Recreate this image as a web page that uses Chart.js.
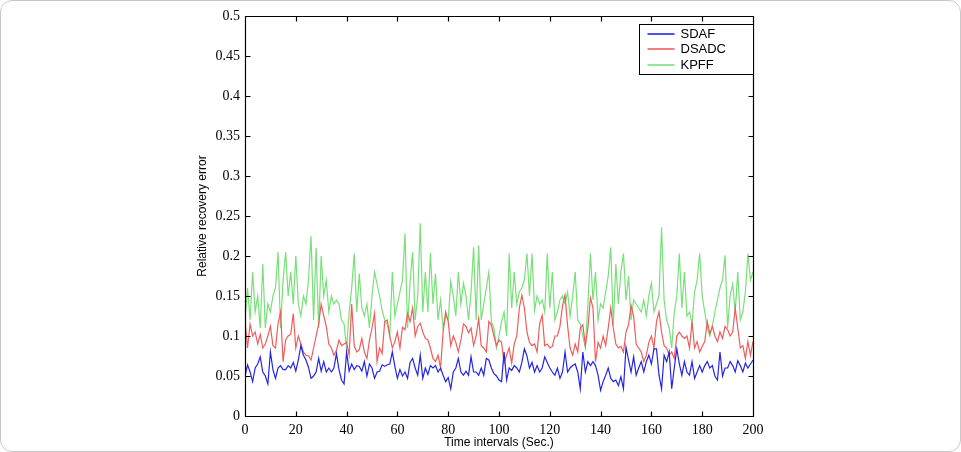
<!DOCTYPE html>
<html>
<head>
<meta charset="utf-8">
<script src="https://cdn.jsdelivr.net/npm/chart.js@4.4.1/dist/chart.umd.min.js"></script>
<style>
  body { margin: 0; background: #fff; }
  #wrap { position: relative; width: 961px; height: 452px; }
  #frame { position: absolute; left: 0; top: 0; width: 961px; height: 452px; box-sizing: border-box;
           border: 1px solid #c8c8c8; border-radius: 12px; pointer-events: none; }
</style>
</head>
<body>
<div id="wrap">
  <canvas id="ChartError"></canvas>
  <div id="frame"></div>
</div>
<script>
// time steps 0..200 (sec.)
const timeSteps = Array.from({ length: 201 }, (_, i) => i);

const sdaf = [
  0.05, 0.064, 0.055, 0.043, 0.06, 0.065, 0.074, 0.055, 0.05, 0.04,
  0.08, 0.058, 0.047, 0.06, 0.063, 0.058, 0.058, 0.063, 0.06, 0.067,
  0.056, 0.07, 0.088, 0.076, 0.07, 0.061, 0.047, 0.05, 0.055, 0.072,
  0.056, 0.068, 0.055, 0.06, 0.055, 0.06, 0.078, 0.058, 0.045, 0.04,
  0.08, 0.056, 0.065, 0.058, 0.063, 0.062, 0.056, 0.068, 0.05, 0.065,
  0.06, 0.047, 0.055, 0.056, 0.064, 0.062, 0.064, 0.065, 0.08, 0.062,
  0.047, 0.058, 0.05, 0.055, 0.047, 0.067, 0.072, 0.06, 0.051, 0.076,
  0.047, 0.06, 0.052, 0.063, 0.06, 0.063, 0.055, 0.06, 0.051, 0.043,
  0.048, 0.034, 0.055, 0.06, 0.072, 0.055, 0.051, 0.056, 0.051, 0.074,
  0.055, 0.055, 0.051, 0.06, 0.051, 0.072, 0.07, 0.06, 0.053, 0.05,
  0.045, 0.043, 0.08, 0.045, 0.06, 0.057, 0.063, 0.06, 0.055, 0.067,
  0.084, 0.075, 0.06, 0.067, 0.055, 0.063, 0.055, 0.06, 0.074, 0.067,
  0.06, 0.055, 0.051, 0.06, 0.047, 0.055, 0.08, 0.055, 0.06, 0.063,
  0.065, 0.055, 0.034, 0.08, 0.055, 0.068, 0.063, 0.068, 0.063, 0.051,
  0.032, 0.043, 0.051, 0.06, 0.047, 0.043, 0.045, 0.038, 0.049, 0.034,
  0.086, 0.07, 0.055, 0.074, 0.051, 0.06, 0.068, 0.055, 0.068, 0.076,
  0.065, 0.084, 0.084, 0.051, 0.034, 0.076, 0.068, 0.08, 0.034, 0.06,
  0.084, 0.065, 0.051, 0.068, 0.055, 0.051, 0.068, 0.047, 0.055, 0.063,
  0.055, 0.063, 0.068, 0.06, 0.063, 0.05, 0.045, 0.08, 0.05, 0.06,
  0.06, 0.068, 0.063, 0.055, 0.069, 0.063, 0.055, 0.066, 0.06, 0.065,
  0.07
];

const dsadc = [
  0.12, 0.085, 0.115, 0.1, 0.105, 0.09, 0.102, 0.085, 0.09, 0.1,
  0.112, 0.088, 0.085, 0.115, 0.13, 0.068, 0.095, 0.1, 0.102, 0.128,
  0.085, 0.1, 0.09, 0.08, 0.076, 0.075, 0.07, 0.085, 0.1, 0.115,
  0.14, 0.125, 0.112, 0.09, 0.085, 0.076, 0.082, 0.095, 0.088, 0.09,
  0.092, 0.076, 0.14, 0.088, 0.08, 0.083, 0.097, 0.08, 0.072, 0.095,
  0.11, 0.128, 0.068, 0.085, 0.078, 0.118, 0.12, 0.1, 0.085, 0.093,
  0.105, 0.085, 0.111, 0.108, 0.128, 0.118, 0.135, 0.1, 0.112, 0.116,
  0.105, 0.097, 0.095, 0.085, 0.072, 0.068, 0.076, 0.06, 0.105, 0.13,
  0.118, 0.088, 0.1, 0.092, 0.08, 0.095, 0.115, 0.112, 0.104, 0.11,
  0.088, 0.1, 0.122, 0.088, 0.085, 0.08, 0.118, 0.114, 0.1, 0.088,
  0.095, 0.092, 0.066, 0.076, 0.085, 0.066, 0.09, 0.1, 0.135, 0.151,
  0.135, 0.105, 0.092, 0.088, 0.09, 0.08, 0.115, 0.126, 0.088, 0.09,
  0.085, 0.087, 0.1, 0.1, 0.112, 0.138, 0.151, 0.113, 0.085, 0.076,
  0.09, 0.08, 0.11, 0.114, 0.088, 0.11, 0.148, 0.135, 0.068, 0.092,
  0.085, 0.1, 0.088, 0.11, 0.135, 0.11, 0.09, 0.085, 0.087, 0.08,
  0.105, 0.114, 0.138, 0.125, 0.09, 0.085, 0.08, 0.068, 0.076, 0.092,
  0.1, 0.085, 0.118, 0.13, 0.105, 0.088, 0.085, 0.076, 0.08, 0.072,
  0.1, 0.105, 0.1, 0.097, 0.1, 0.085, 0.118, 0.085, 0.093, 0.08,
  0.087, 0.093, 0.118, 0.103, 0.112, 0.1, 0.093, 0.105, 0.097, 0.112,
  0.108, 0.1, 0.105, 0.135, 0.11, 0.085, 0.088, 0.072, 0.093, 0.076,
  0.093
];

const kpff = [
  0.12, 0.16, 0.12, 0.18, 0.13, 0.15, 0.11, 0.19, 0.11, 0.14,
  0.13, 0.15, 0.16, 0.205, 0.11, 0.17, 0.205, 0.15, 0.18, 0.14,
  0.2, 0.14, 0.125, 0.15, 0.14, 0.17, 0.225, 0.12, 0.21, 0.11,
  0.2, 0.15, 0.17, 0.13, 0.15, 0.14, 0.145, 0.14, 0.12, 0.115,
  0.085, 0.13, 0.16, 0.203, 0.13, 0.178, 0.135, 0.125, 0.14, 0.11,
  0.15, 0.18, 0.165, 0.15, 0.132, 0.12, 0.115, 0.1, 0.18, 0.125,
  0.14, 0.155, 0.17, 0.228, 0.11, 0.168, 0.205, 0.12, 0.15, 0.241,
  0.13, 0.18, 0.13, 0.204, 0.14, 0.178, 0.12, 0.145, 0.11, 0.126,
  0.12, 0.168, 0.15, 0.125, 0.18, 0.14, 0.166, 0.15, 0.12, 0.155,
  0.211, 0.12, 0.213, 0.12, 0.14, 0.16, 0.18, 0.118, 0.11, 0.085,
  0.1, 0.118, 0.13, 0.1, 0.203, 0.135, 0.18, 0.14, 0.155, 0.16,
  0.17, 0.203, 0.15, 0.203, 0.132, 0.15, 0.14, 0.145, 0.13, 0.203,
  0.135, 0.18, 0.12, 0.13, 0.145, 0.15, 0.14, 0.155, 0.125, 0.15,
  0.18, 0.12, 0.115, 0.1, 0.085, 0.14, 0.203, 0.145, 0.18, 0.12,
  0.14, 0.135, 0.155, 0.175, 0.211, 0.113, 0.19, 0.14, 0.18, 0.203,
  0.145, 0.175, 0.12, 0.145, 0.14, 0.135, 0.13, 0.145, 0.125, 0.15,
  0.166, 0.13, 0.14, 0.15, 0.236, 0.145, 0.12, 0.11, 0.085, 0.13,
  0.15, 0.203, 0.135, 0.18, 0.125, 0.13, 0.115, 0.155, 0.17, 0.203,
  0.15, 0.13, 0.11, 0.1, 0.113, 0.13, 0.145, 0.16, 0.17, 0.201,
  0.11, 0.15, 0.165, 0.13, 0.18, 0.12, 0.13, 0.155, 0.203, 0.17,
  0.18
];

const seriesNames = ["SDAF", "DSADC", "KPFF"];
const seriesColors = ["#2424e6", "#f05c5c", "#78e078"];
const xTicks = ["0", "20", "40", "60", "80", "100", "120", "140", "160", "180", "200"];
const yTicks = ["0", "0.05", "0.1", "0.15", "0.2", "0.25", "0.3", "0.35", "0.4", "0.45", "0.5"];

const toPoints = (vals) => vals.map((v, i) => ({ x: timeSteps[i], y: v }));

// matlab-like box, inward ticks and legend
const matlabFrame = {
  id: "matlabFrame",
  afterDraw(chart) {
    const { ctx, chartArea: a, scales } = chart;
    const L = Math.round(a.left) + 0.5, R = Math.round(a.right) + 0.5;
    const T = Math.round(a.top) + 0.5, B = Math.round(a.bottom) + 0.5;
    ctx.save();
    ctx.strokeStyle = "#000";
    ctx.lineWidth = 1.2;
    ctx.beginPath();
    ctx.rect(L, T, R - L, B - T);
    scales.x.ticks.forEach((t) => {
      const px = Math.round(scales.x.getPixelForValue(t.value)) + 0.5;
      ctx.moveTo(px, B); ctx.lineTo(px, B - 5);
      ctx.moveTo(px, T); ctx.lineTo(px, T + 5);
    });
    scales.y.ticks.forEach((t) => {
      const py = Math.round(scales.y.getPixelForValue(t.value)) + 0.5;
      ctx.moveTo(L, py); ctx.lineTo(L + 5, py);
      ctx.moveTo(R, py); ctx.lineTo(R - 5, py);
    });
    ctx.stroke();

    // legend
    const w = 114, h = 50;
    const lx = R - w, ly = T + 8;
    ctx.fillStyle = "#fff";
    ctx.fillRect(lx, ly, w, h);
    ctx.lineWidth = 1;
    ctx.strokeStyle = "#000";
    ctx.strokeRect(lx, ly, w, h);
    ctx.font = "13px 'Liberation Sans', Arial, sans-serif";
    ctx.textBaseline = "middle";
    ctx.textAlign = "left";
    seriesNames.forEach((name, i) => {
      const yy = Math.round(ly + 9 + i * 15.5);
      ctx.lineWidth = 1.6;
      ctx.strokeStyle = seriesColors[i];
      ctx.beginPath();
      ctx.moveTo(lx + 8, yy);
      ctx.lineTo(lx + 35, yy);
      ctx.stroke();
      ctx.fillStyle = "#000";
      ctx.fillText(name, lx + 41, yy);
    });
    ctx.restore();
  },
};

const ChartError = document.getElementById("ChartError");

new Chart(ChartError, {
  type: "line",
  data: {
    datasets: [
      { label: seriesNames[0], data: toPoints(sdaf), borderColor: seriesColors[0], borderWidth: 1.2 },
      { label: seriesNames[1], data: toPoints(dsadc), borderColor: seriesColors[1], borderWidth: 1.2 },
      { label: seriesNames[2], data: toPoints(kpff), borderColor: seriesColors[2], borderWidth: 1.2 },
    ],
  },
  plugins: [matlabFrame],
  options: {
    responsive: true,
    maintainAspectRatio: false,
    animation: false,
    elements: { point: { radius: 0 }, line: { tension: 0 } },
    layout: { padding: { left: 195, right: 208, top: 16, bottom: 2 } },
    plugins: { legend: { display: false }, tooltip: { enabled: false } },
    scales: {
      x: {
        type: "linear",
        min: 0,
        max: 200,
        grid: { display: false, drawTicks: false },
        border: { display: false },
        ticks: {
          stepSize: 20,
          padding: 6,
          color: "#000",
          font: { family: "'Liberation Serif', 'Times New Roman', serif", size: 14 },
          callback: (v, i) => xTicks[i],
        },
        title: {
          display: true,
          text: "Time intervals (Sec.)",
          color: "#000",
          padding: 0,
          font: { family: "'Liberation Sans', Arial, sans-serif", size: 12 },
        },
        afterFit: (s) => { s.height = 34; },
      },
      y: {
        min: 0,
        max: 0.5,
        grid: { display: false, drawTicks: false },
        border: { display: false },
        ticks: {
          stepSize: 0.05,
          padding: 5,
          color: "#000",
          font: { family: "'Liberation Serif', 'Times New Roman', serif", size: 14 },
          callback: (v, i) => yTicks[i],
        },
        title: {
          display: true,
          text: "Relative recovery error",
          color: "#000",
          padding: 0,
          font: { family: "'Liberation Sans', Arial, sans-serif", size: 12 },
        },
        afterFit: (s) => { s.width = 50; },
      },
    },
  },
});
</script>
</body>
</html>
